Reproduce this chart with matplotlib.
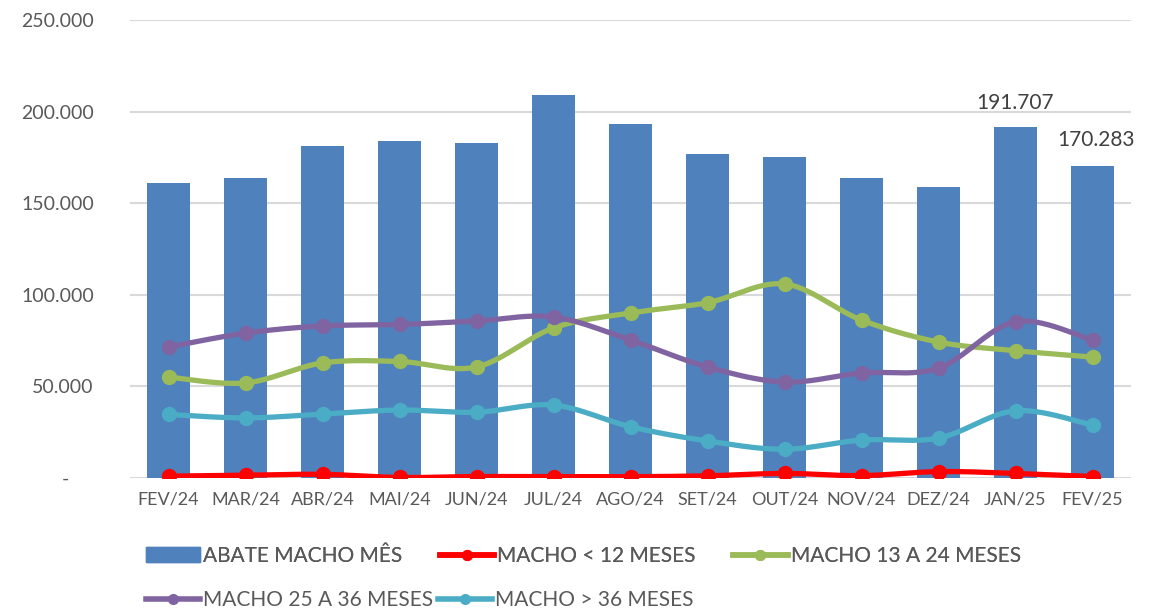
import matplotlib.pyplot as plt
import numpy as np
from matplotlib.patches import Patch
from matplotlib.lines import Line2D

plt.rcParams['font.family'] = ['Lato', 'DejaVu Sans']

meses = ['FEV/24', 'MAR/24', 'ABR/24', 'MAI/24', 'JUN/24', 'JUL/24', 'AGO/24',
         'SET/24', 'OUT/24', 'NOV/24', 'DEZ/24', 'JAN/25', 'FEV/25']
abate = [161000, 163800, 181200, 183700, 182600, 208800, 193500,
         176900, 175200, 163800, 158800, 191707, 170283]
ate_12 = [1000, 1500, 2000, 300, 800, 700, 700, 1200, 2500, 1300, 3500, 2500, 800]
m13_24 = [55100, 51900, 62800, 63600, 60600, 81900, 90100, 95700, 105900, 86200, 74200, 69500, 66000]
m25_36 = [71500, 79100, 83000, 83800, 85700, 87900, 75300, 60600, 52400, 57300, 60000, 85300, 75300]
mais_36 = [34700, 32800, 34900, 37100, 35900, 39800, 28000, 20200, 15700, 20700, 21800, 36700, 28900]

series = [
    ('MACHO < 12 MESES', ate_12, '#FF0000'),
    ('MACHO 13 A 24 MESES', m13_24, '#9BBB59'),
    ('MACHO 25 A 36 MESES', m25_36, '#8064A2'),
    ('MACHO > 36 MESES', mais_36, '#4BACC6'),
]
bar_color = '#4F81BD'
txt = '#595959'


def smooth(x, y, n=30):
    # catmull-rom like Excel "smoothed line"
    x = np.asarray(x, float)
    y = np.asarray(y, float)
    px = np.concatenate([[x[0]], x, [x[-1]]])
    py = np.concatenate([[y[0]], y, [y[-1]]])
    xs, ys = [], []
    t = np.linspace(0, 1, n)
    for i in range(1, len(px) - 2):
        p0 = np.array([px[i], py[i]])
        p3 = np.array([px[i + 1], py[i + 1]])
        c1 = p0 + (np.array([px[i + 1], py[i + 1]]) - np.array([px[i - 1], py[i - 1]])) / 6
        c2 = p3 - (np.array([px[i + 2], py[i + 2]]) - np.array([px[i], py[i]])) / 6
        pts = ((1 - t) ** 3)[:, None] * p0 + (3 * (1 - t) ** 2 * t)[:, None] * c1 \
            + (3 * (1 - t) * t ** 2)[:, None] * c2 + (t ** 3)[:, None] * p3
        xs.extend(pts[:, 0])
        ys.extend(pts[:, 1])
    return np.array(xs), np.array(ys)


fig = plt.figure(figsize=(11.5, 6.12), dpi=100)
ax = fig.add_axes([130 / 1150, (612 - 478) / 612, 1001 / 1150, 458 / 612])

x = np.arange(len(meses))
ax.bar(x, abate, width=0.55, color=bar_color, zorder=2)

for name, vals, col in series:
    sx, sy = smooth(x, vals)
    ax.plot(sx, sy, color=col, lw=3.8, zorder=3, solid_capstyle='round')
    ax.plot(x, vals, 'o', color=col, ms=10, zorder=4)

ax.text(x[-2], abate[-2] + 7500, '191.707', ha='center', va='bottom', fontsize=15, color='#404040')
ax.text(x[-1] + 0.05, abate[-1] + 9000, '170.283', ha='center', va='bottom', fontsize=15, color='#404040')

ax.set_xlim(-0.5, len(meses) - 0.5)
ax.set_ylim(0, 250000)
ticks = [0, 50000, 100000, 150000, 200000, 250000]
ax.set_yticks(ticks)
ax.set_yticklabels(['-     '] + [f'{t:,.0f}'.replace(',', '.') for t in ticks[1:]])
ax.set_xticks(x)
ax.set_xticklabels(meses)
ax.tick_params(axis='y', length=0, pad=26, labelsize=14, labelcolor=txt)
ax.tick_params(axis='x', length=0, pad=10, labelsize=13, labelcolor=txt)
ax.grid(axis='y', color='#D9D9D9', lw=1.5, zorder=0)
ax.set_axisbelow(True)
for s in ax.spines.values():
    s.set_visible(False)

h_bar = Patch(color=bar_color, label='ABATE MACHO MÊS')
h_lines = [Line2D([], [], color=c, lw=4, marker='o', ms=7, label=n) for n, v, c in series]

leg_kw = dict(loc='center left', frameon=False, fontsize=15, labelcolor=txt, handlelength=2.6,
              handletextpad=0.15, borderaxespad=0, borderpad=0)
leg1 = fig.legend(handles=[h_bar, h_lines[0], h_lines[1]], ncol=3, columnspacing=1.8,
                  bbox_to_anchor=(146 / 1150, 1 - 556 / 612), **leg_kw)
fig.add_artist(leg1)
fig.legend(handles=[h_lines[2], h_lines[3]], ncol=2, columnspacing=0.2,
           bbox_to_anchor=(146 / 1150, 1 - 600 / 612), **leg_kw)

fig.savefig('out.png', dpi=100)
